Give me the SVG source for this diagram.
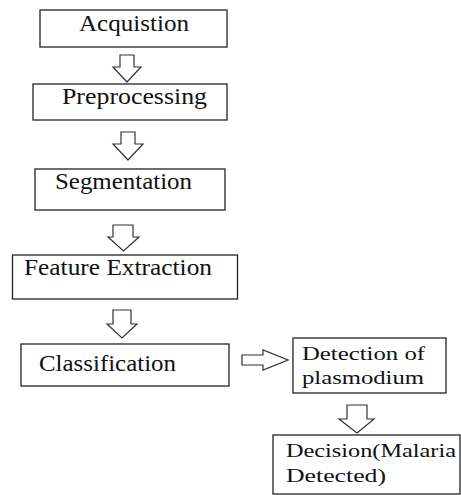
<svg xmlns="http://www.w3.org/2000/svg" width="461" height="495" viewBox="0 0 461 495">
<style>
.box{fill:#fff;stroke:#222;stroke-width:1.3}
.arr{fill:#fff;stroke:#333;stroke-width:1.2;stroke-linejoin:miter}
.t{font-family:'Liberation Serif','Times New Roman',serif;font-size:23px;fill:#111}
.t2{font-size:19px}
</style>
<rect width="461" height="495" fill="#fff"/>
<g id="connectors">
<polygon class="arr" points="120,55 134,55 134,67 141,67 127,82 113,67 120,67"/>
<polygon class="arr" points="121,132 135,132 135,144 143,144 128,160 113,144 121,144"/>
<polygon class="arr" points="113,225 133,225 133,237 139,237 123.5,251 108,237 113,237"/>
<polygon class="arr" points="113,310 131,310 131,324 137,324 122,338 107,324 113,324"/>
<polygon class="arr" points="242,355 263,355 263,350 288,360 263,370 263,365 242,365"/>
<polygon class="arr" points="347,405 367,405 367,419 374,419 357,433 339,419 347,419"/>
</g>
<g id="acquisition">
<rect class="box" x="40" y="10" width="187" height="37"/>
<text class="t" x="79" y="31" textLength="110" lengthAdjust="spacingAndGlyphs">Acquistion</text>
</g>
<g id="preprocessing">
<rect class="box" x="33" y="84" width="194" height="36"/>
<text class="t" x="62" y="104" textLength="145" lengthAdjust="spacingAndGlyphs">Preprocessing</text>
</g>
<g id="segmentation">
<rect class="box" x="35" y="169" width="190" height="41"/>
<text class="t" x="55" y="189" textLength="137" lengthAdjust="spacingAndGlyphs">Segmentation</text>
</g>
<g id="feature-extraction">
<rect class="box" x="12.5" y="255" width="225" height="44"/>
<text class="t" x="24" y="275" textLength="188" lengthAdjust="spacingAndGlyphs">Feature Extraction</text>
</g>
<g id="classification">
<rect class="box" x="21" y="344" width="208" height="42"/>
<text class="t" x="39" y="371" textLength="137" lengthAdjust="spacingAndGlyphs">Classification</text>
</g>
<g id="detection">
<rect class="box" x="293" y="338" width="153" height="55"/>
<text class="t t2" x="302" y="360" textLength="123" lengthAdjust="spacingAndGlyphs">Detection of</text>
<text class="t t2" x="302" y="384" textLength="122" lengthAdjust="spacingAndGlyphs">plasmodium</text>
</g>
<g id="decision">
<rect class="box" x="273" y="435" width="187" height="59"/>
<text class="t t2" x="286" y="457" textLength="170" lengthAdjust="spacingAndGlyphs">Decision(Malaria</text>
<text class="t t2" x="286" y="482" textLength="100" lengthAdjust="spacingAndGlyphs">Detected)</text>
</g>
</svg>
